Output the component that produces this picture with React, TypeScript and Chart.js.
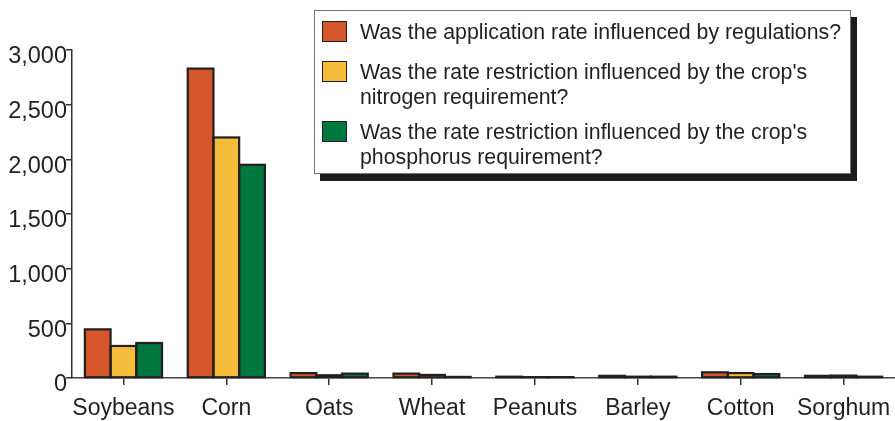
import React, { useEffect, useRef } from "react";
import { Chart, registerables } from "chart.js";

Chart.register(...registerables);

const categories = ["Soybeans", "Corn", "Oats", "Wheat", "Peanuts", "Barley", "Cotton", "Sorghum"];
const regulationsValues = [445, 2830, 45, 40, 12, 20, 52, 20];
const nitrogenValues = [293, 2200, 25, 28, 8, 12, 45, 22];
const phosphorusValues = [320, 1950, 40, 10, 8, 12, 36, 12];
const yTicks = [0, 500, 1000, 1500, 2000, 2500, 3000];

const legendLines = [
  ["Was the application rate influenced by regulations?"],
  ["Was the rate restriction influenced by the crop's", "nitrogen requirement?"],
  ["Was the rate restriction influenced by the crop's", "phosphorus requirement?"],
];
const seriesColors = ["#d6562c", "#f4bc3a", "#00773d"];
const seriesValues = [regulationsValues, nitrogenValues, phosphorusValues];

const FONT = "'Liberation Sans', Arial, Helvetica, sans-serif";
const INK = "#231f20";

const barOutline = {
  id: "barOutline",
  afterDatasetsDraw(chart: any) {
    const ctx = chart.ctx;
    ctx.save();
    ctx.strokeStyle = INK;
    ctx.lineWidth = 2.2;
    chart.data.datasets.forEach((_: any, i: number) => {
      const meta = chart.getDatasetMeta(i);
      meta.data.forEach((bar: any) => {
        const p = bar.getProps(["x", "y", "base", "width"], true);
        ctx.strokeRect(p.x - p.width / 2, p.y, p.width, p.base - p.y);
      });
    });
    ctx.restore();
  },
};

export default function App() {
  const canvasRef = useRef<HTMLCanvasElement | null>(null);

  useEffect(() => {
    document.body.style.margin = "0";
    const ctx = canvasRef.current;
    if (!ctx) return;
    const chart = new Chart(ctx, {
      type: "bar",
      data: {
        labels: categories,
        datasets: seriesValues.map((vals, i) => ({
          label: legendLines[i].join(" "),
          data: vals,
          backgroundColor: seriesColors[i],
          borderWidth: 0,
          categoryPercentage: 0.75,
          barPercentage: 1.0,
        })),
      },
      plugins: [barOutline],
      options: {
        animation: false,
        responsive: true,
        maintainAspectRatio: false,
        layout: { padding: { top: 50, right: 0, left: 0, bottom: 0 } },
        plugins: {
          legend: { display: false },
          tooltip: { enabled: false },
        },
        scales: {
          x: {
            grid: {
              offset: false,
              drawOnChartArea: false,
              drawTicks: true,
              tickLength: 7,
              color: "#333",
              lineWidth: 1.5,
            },
            border: { color: "#444", width: 1.5 },
            ticks: {
              autoSkip: false,
              maxRotation: 0,
              padding: 10,
              color: INK,
              font: { family: FONT, size: 23 },
            },
            afterFit: (scale: any) => {
              scale.height = 43;
              scale.paddingLeft = 0;
              scale.paddingRight = 0;
            },
          },
          y: {
            min: 0,
            max: 3000,
            afterBuildTicks: (scale: any) => {
              scale.ticks = yTicks.map((v) => ({ value: v }));
            },
            grid: {
              drawOnChartArea: false,
              drawTicks: true,
              tickLength: 6,
              color: "#333",
              lineWidth: 1.5,
            },
            border: { color: "#333", width: 1.5 },
            ticks: {
              padding: -1,
              labelOffset: 7,
              color: INK,
              font: { family: FONT, size: 23.5 },
              callback: (v: any) => Number(v).toLocaleString("en-US"),
            },
            afterFit: (scale: any) => {
              scale.width = 72;
            },
          },
        },
      },
    });
    return () => chart.destroy();
  }, []);

  const rowTops = [9, 49, 109];

  return (
    <div style={{ position: "relative", width: 895, height: 421, fontFamily: FONT }}>
      <canvas ref={canvasRef} />
      <div
        style={{
          position: "absolute",
          left: 314,
          top: 10,
          width: 535,
          height: 162,
          border: "1px solid #777",
          background: "#fff",
          boxShadow: "6px 7px 0 #1c1c1c",
        }}
      >
        {legendLines.map((lines, i) => (
          <div key={i} style={{ position: "absolute", left: 0, top: rowTops[i], width: "100%" }}>
            <div
              style={{
                position: "absolute",
                left: 7,
                top: 1,
                width: 23,
                height: 19,
                background: seriesColors[i],
                border: `1px solid ${INK}`,
              }}
            />
            <div
              style={{
                position: "absolute",
                left: 45,
                top: 0,
                fontSize: 21.3,
                lineHeight: "25px",
                color: INK,
                whiteSpace: "nowrap",
              }}
            >
              {lines.map((l, j) => (
                <div key={j}>{l}</div>
              ))}
            </div>
          </div>
        ))}
      </div>
    </div>
  );
}
